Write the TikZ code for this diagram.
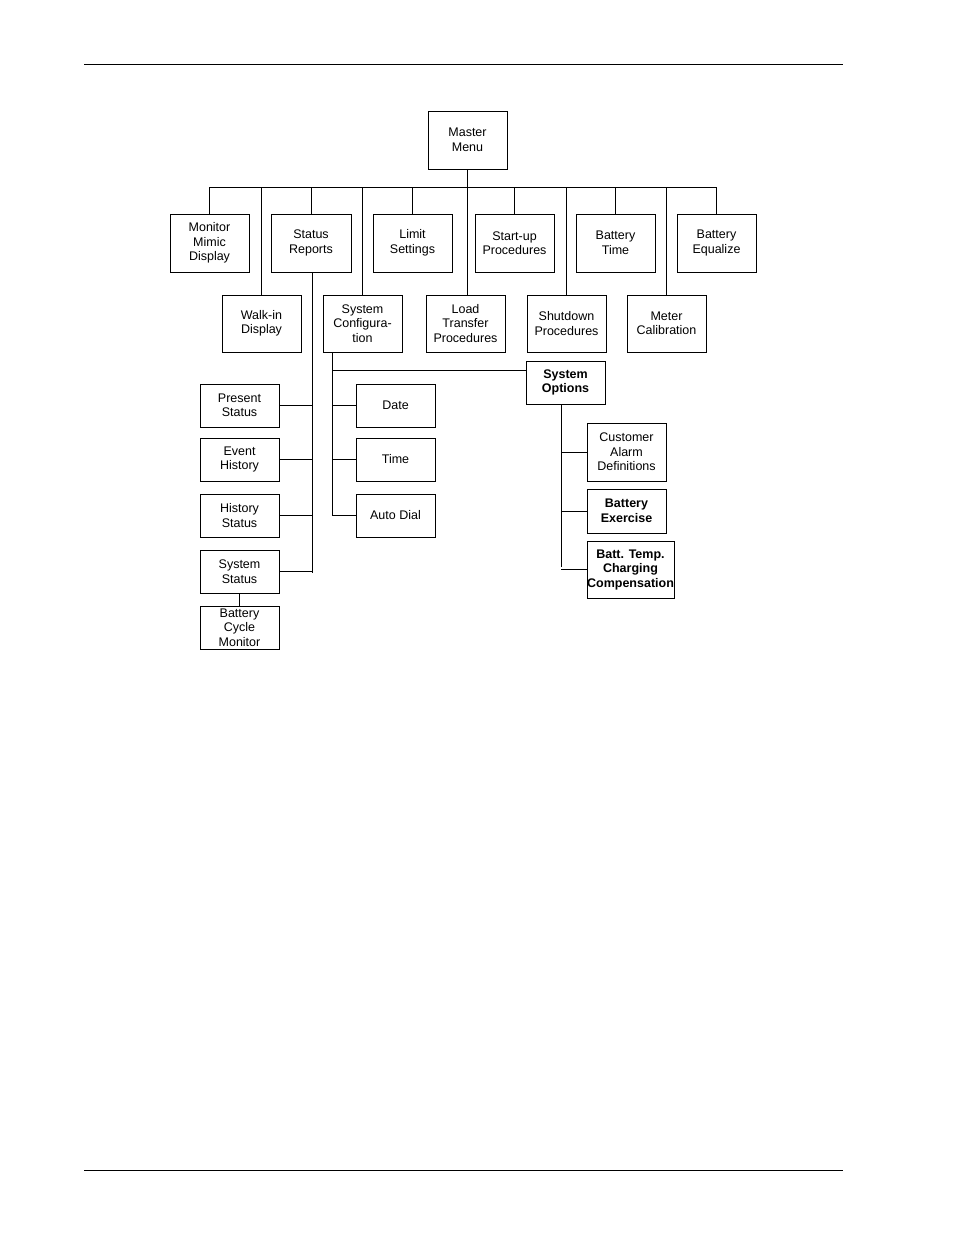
\documentclass[tikz,border=0pt]{standalone}
\usepackage{fontspec}
\setmainfont{Liberation Sans}
\begin{document}
\begin{tikzpicture}[x=1pt,y=-1pt,
  bx/.style={draw,line width=0.8pt,inner sep=0pt,align=center,font=\fontsize{12.5}{14.5}\selectfont},
  ln/.style={line width=0.8pt}]
\useasboundingbox (0,0) rectangle (954,1235);
\draw[line width=0.8pt] (84,64) -- (843,64);
\draw[line width=0.8pt] (84,1170) -- (843,1170);
\newcommand\bxx[6]{\node[bx,minimum width=#4-#2,minimum height=#5-#3] (#1) at ({(#2+#4)/2},{(#3+#5)/2}) {#6};}
\bxx{mm}{428}{111}{507}{169}{Master\\Menu}
\bxx{mon}{170}{214}{249}{272}{Monitor\\Mimic\\Display}
\bxx{sr}{271}{214}{351}{272}{Status\\Reports}
\bxx{lim}{373}{214}{452}{272}{Limit\\Settings}
\bxx{sup}{475}{214}{554}{272}{Start-up\\Procedures}
\bxx{bt}{576}{214}{655}{272}{Battery\\Time}
\bxx{be}{677}{214}{756}{272}{Battery\\Equalize}
\bxx{wi}{222}{295}{301}{352}{Walk-in\\Display}
\bxx{sc}{323}{295}{402}{352}{System\\Configura-\\tion}
\bxx{lt}{426}{295}{505}{352}{Load\\Transfer\\Procedures}
\bxx{sd}{527}{295}{606}{352}{Shutdown\\Procedures}
\bxx{mc}{627}{295}{706}{352}{Meter\\Calibration}
\bxx{ps}{200}{384}{279}{427}{Present\\Status}
\bxx{eh}{200}{438}{279}{481}{Event\\History}
\bxx{hs}{200}{494}{279}{537}{History\\Status}
\bxx{ss}{200}{550}{279}{593}{System\\Status}
\bxx{bcm}{200}{606}{279}{649}{Battery\\Cycle\\Monitor}
\bxx{da}{356}{384}{435}{427}{Date}
\bxx{ti}{356}{438}{435}{481}{Time}
\bxx{ad}{356}{494}{435}{537}{Auto Dial}
\bxx{so}{526}{361}{605}{404}{\textbf{System}\\\textbf{Options}}
\bxx{ca}{587}{423}{666}{481}{Customer\\Alarm\\Definitions}
\bxx{bex}{587}{489}{666}{533}{\textbf{Battery}\\\textbf{Exercise}}
\bxx{btc}{587}{541}{674}{598}{\textbf{Batt. Temp.}\\\textbf{Charging}\\\textbf{Compensation}}
\coordinate (busL) at (209,187);
\coordinate (busR) at (716,187);
\draw[ln] (busL) -- (busR);
\draw[ln] (mm.south) -- (lt.north -| mm.south);
\foreach \n in {mon,wi,sr,sc,lim,sup,sd,bt,mc,be}{\draw[ln] (\n.north) -- (\n.north |- busL);}
\coordinate (srv) at (312,573);
\draw[ln] (srv |- sr.south) -- (srv);
\foreach \n in {ps,eh,hs,ss}{\draw[ln] (\n.east) -- (\n.east -| srv);}
\draw[ln] (ss.south) -- (bcm.north);
\coordinate (scv) at (332,516);
\draw[ln] (scv |- sc.south) -- (scv);
\draw[ln] (scv |- 0,370) -- (so.west |- 0,370);
\foreach \n in {da,ti,ad}{\draw[ln] (\n.west) -- (\n.west -| scv);}
\coordinate (sov) at (561,567);
\draw[ln] (so.south -| sov) -- (sov);
\foreach \n in {ca,bex,btc}{\draw[ln] (\n.west) -- (\n.west -| sov);}
\end{tikzpicture}
\end{document}
